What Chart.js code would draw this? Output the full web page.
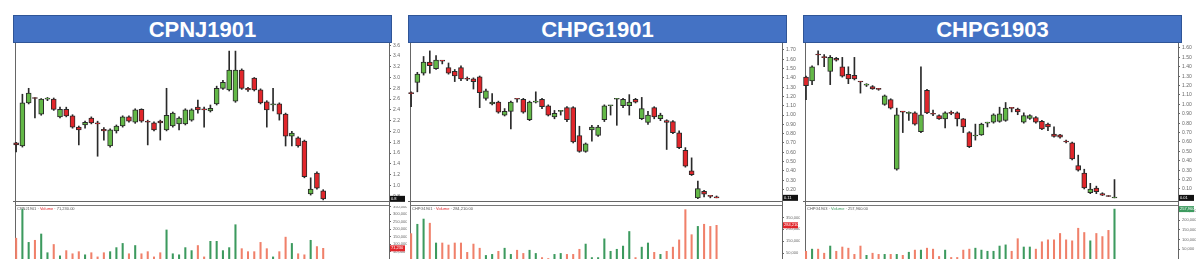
<!DOCTYPE html>
<html>
<head>
<meta charset="utf-8">
<script src="https://cdn.jsdelivr.net/npm/chart.js@4.4.1/dist/chart.umd.min.js"></script>
<style>
    html, body { margin: 0; padding: 0; background: #fff; width: 1200px; height: 259px; overflow: hidden; font-family: "Liberation Sans", Arial, sans-serif; }
    .title { position: absolute; top: 15px; height: 26px; width: 377px; background: #4472c4; border: 1px solid #2f5597; color: #fff; font-weight: bold; font-size: 22px; line-height: 27px; text-align: center; }
    .vline { position: absolute; top: 43px; height: 216px; width: 1px; background: #666; }
    .hline { position: absolute; top: 205px; height: 1px; background: #777; }
    canvas { position: absolute; }
</style>
</head>
<body>
<div class="title" style="left:13px">CPNJ1901</div>
<div class="title" style="left:408px">CHPG1901</div>
<div class="title" style="left:803px">CHPG1903</div>

<div class="vline" style="left:15px"></div>
<div class="vline" style="left:389px"></div>
<div class="vline" style="left:410px"></div>
<div class="vline" style="left:782px"></div>
<div class="vline" style="left:805px"></div>
<div class="vline" style="left:1178px"></div>
<div class="hline" style="left:15px;width:374px"></div>
<div class="hline" style="left:410px;width:372px"></div>
<div class="hline" style="left:805px;width:373px"></div>

<canvas id="price1" width="394" height="162" style="left:13px;top:43px"></canvas>
<canvas id="vol1" width="394" height="57" style="left:13px;top:206px"></canvas>
<canvas id="price2" width="392" height="162" style="left:408px;top:43px"></canvas>
<canvas id="vol2" width="392" height="57" style="left:408px;top:206px"></canvas>
<canvas id="price3" width="393" height="162" style="left:803px;top:43px"></canvas>
<canvas id="vol3" width="393" height="57" style="left:803px;top:206px"></canvas>

<script>
// Trading days shown on the x axis
const dates = ['Jun 28','Jul 1','Jul 2','Jul 3','Jul 4','Jul 5','Jul 8','Jul 9','Jul 10','Jul 11','Jul 12',
    'Jul 15','Jul 16','Jul 17','Jul 18','Jul 19','Jul 22','Jul 23','Jul 24','Jul 25','Jul 26',
    'Jul 29','Jul 30','Jul 31','Aug 1','Aug 2','Aug 5','Aug 6','Aug 7','Aug 8','Aug 9',
    'Aug 12','Aug 13','Aug 14','Aug 15','Aug 16','Aug 19','Aug 20','Aug 21','Aug 22','Aug 23',
    'Aug 26','Aug 27','Aug 28','Aug 29','Aug 30','Sep 3','Sep 4','Sep 5','Sep 6',
    'Sep 9','Sep 10','Sep 11','Sep 12','Sep 13','Sep 16','Sep 17','Sep 18','Sep 19','Sep 20','Sep 23','Sep 24'];

// Which dates carry a tick label, and the text
const tickText = { 'Jul 1': 'Jul', 'Jul 8': '8', 'Jul 15': '15', 'Jul 22': '22', 'Jul 29': '29',
    'Aug 1': 'Aug', 'Aug 5': '5', 'Aug 12': '12', 'Aug 19': '19', 'Aug 26': '26', 'Sep 3': 'Sep', 'Sep 9': '9' };

// Volume axis tick values
const volTicks1 = [50000, 100000, 150000, 200000, 250000, 300000, 350000];
const volTicks2 = [50000, 100000, 150000, 200000, 250000, 300000, 350000, 400000];
const volTicks3 = [50000, 100000, 150000, 200000, 250000];

// [open, high, low, close]
const cpnjOHLC = [
    [1.79,1.80,1.62,1.75],[1.73,2.69,1.71,2.53],[2.53,2.80,2.51,2.71],[2.62,2.63,2.25,2.61],[2.32,2.61,2.30,2.60],
    [2.60,2.63,2.57,2.61],[2.60,2.62,2.39,2.41],[2.27,2.45,2.25,2.41],[2.41,2.45,2.27,2.29],[2.29,2.31,2.06,2.08],
    [2.08,2.10,1.75,2.03],[2.12,2.19,2.06,2.17],[2.25,2.27,2.14,2.16],[2.15,2.19,1.54,2.14],[2.04,2.07,1.84,2.01],
    [1.73,2.05,1.71,2.03],[2.01,2.12,1.97,2.10],[2.10,2.29,2.08,2.27],[2.27,2.29,2.17,2.19],[2.17,2.42,2.15,2.40],
    [2.41,2.42,2.17,2.19],[2.18,2.21,1.75,2.17],[2.16,2.18,2.01,2.03],[2.19,2.21,1.84,2.16],[2.03,2.80,2.01,2.30],
    [2.10,2.36,2.08,2.34],[2.14,2.27,2.03,2.25],[2.14,2.42,2.12,2.40],[2.21,2.42,2.19,2.40],[2.45,2.58,2.34,2.40],
    [2.42,2.45,2.08,2.40],[2.38,2.49,2.36,2.43],[2.51,2.84,2.49,2.80],[2.80,2.95,2.78,2.91],[2.77,3.49,2.75,3.14],
    [2.56,3.49,2.54,3.14],[3.14,3.16,2.78,2.80],[2.80,2.82,2.74,2.77],[2.99,3.00,2.75,2.77],[2.77,2.79,2.51,2.53],
    [2.55,2.57,2.08,2.40],[2.49,2.80,2.38,2.51],[2.51,2.53,2.21,2.32],[2.32,2.34,1.73,1.91],[1.91,2.00,1.73,1.97],
    [1.88,1.90,1.71,1.73],[1.82,1.84,1.14,1.16],[0.84,1.14,0.82,0.93],[1.23,1.25,0.93,0.95],[0.90,0.92,0.73,0.75]
];
const cpnjVolume = [139000,333000,111000,125000,167000,42000,97000,21000,56000,35000,
    49000,28000,42000,14000,42000,49000,76000,104000,35000,90000,
    35000,49000,14000,42000,194000,35000,28000,76000,56000,90000,
    14000,118000,118000,56000,76000,229000,69000,49000,49000,111000,
    69000,14000,49000,146000,104000,35000,28000,125000,83000,71230];

const hpg1901OHLC = [
    [1.24,1.25,1.09,1.23],[1.35,1.46,1.25,1.44],[1.45,1.63,1.43,1.57],[1.57,1.69,1.45,1.53],[1.50,1.64,1.49,1.59],
    [1.585,1.585,1.55,1.58],[1.51,1.56,1.44,1.45],[1.47,1.49,1.36,1.42],[1.51,1.53,1.37,1.39],[1.39,1.41,1.37,1.385],
    [1.39,1.40,1.28,1.36],[1.41,1.42,1.08,1.24],[1.18,1.28,1.16,1.26],[1.12,1.23,1.11,1.14],[1.14,1.15,1.02,1.03],
    [1.00,1.07,0.99,1.04],[1.04,1.15,0.85,1.14],[1.175,1.175,1.14,1.17],[1.17,1.18,1.02,1.03],[0.95,1.15,0.94,1.14],
    [1.14,1.25,1.13,1.145],[1.17,1.18,1.07,1.09],[1.10,1.11,0.99,1.00],[0.98,1.05,0.96,1.02],[1.04,1.05,1.00,1.045],
    [1.08,1.09,0.93,0.95],[1.08,1.09,0.70,0.71],[0.78,0.88,0.60,0.61],[0.61,0.70,0.60,0.69],[0.84,0.89,0.72,0.87],
    [0.78,0.89,0.77,0.87],[0.95,1.11,0.93,1.10],[1.10,1.105,1.00,1.105],[1.17,1.18,0.89,1.175],[1.10,1.18,1.08,1.17],
    [1.10,1.22,1.00,1.14],[1.17,1.18,1.13,1.14],[0.96,1.19,0.95,1.07],[0.92,1.04,0.90,1.00],[1.08,1.09,0.96,0.98],
    [0.96,1.02,0.94,1.00],[0.94,0.95,0.63,0.92],[0.93,0.94,0.80,0.81],[0.81,0.83,0.64,0.65],[0.62,0.65,0.44,0.45],
    [0.40,0.54,0.35,0.36],[0.11,0.29,0.10,0.21],[0.18,0.19,0.12,0.15],[0.13,0.13,0.11,0.125],[0.115,0.13,0.11,0.11]
];
const hpg1901Volume = [214000,293000,337000,302000,135000,135000,118000,135000,135000,56000,
    126000,91000,30000,39000,65000,91000,39000,74000,47000,74000,
    47000,12000,4000,39000,47000,39000,39000,82000,126000,12000,
    12000,170000,65000,82000,109000,232000,12000,100000,135000,56000,
    39000,65000,100000,161000,416000,205000,275000,293000,275000,284210];

const hpg1903OHLC = [
    [1.29,1.30,1.05,1.20],[1.25,1.41,1.21,1.40],[1.53,1.57,1.42,1.525],[1.50,1.53,1.40,1.498],[1.35,1.52,1.21,1.50],
    [1.49,1.50,1.46,1.47],[1.40,1.50,1.29,1.30],[1.32,1.40,1.22,1.27],[1.31,1.50,1.26,1.27],[1.24,1.245,1.12,1.238],
    [1.205,1.22,1.19,1.21],[1.19,1.20,1.16,1.165],[1.165,1.17,1.15,1.16],[1.00,1.10,0.99,1.09],[1.05,1.06,0.95,0.96],
    [0.31,0.96,0.30,0.89],[0.92,0.925,0.70,0.918],[0.905,0.92,0.83,0.91],[0.91,0.92,0.78,0.79],[0.71,1.40,0.70,0.89],
    [1.15,1.16,0.90,0.91],[0.90,0.94,0.88,0.895],[0.88,0.89,0.84,0.845],[0.845,0.92,0.75,0.91],[0.91,0.93,0.89,0.905],
    [0.91,0.92,0.77,0.845],[0.845,0.85,0.70,0.76],[0.70,0.71,0.54,0.55],[0.664,0.79,0.62,0.674],[0.674,0.80,0.67,0.79],
    [0.80,0.81,0.76,0.802],[0.81,0.90,0.80,0.89],[0.82,0.97,0.81,0.90],[0.83,1.02,0.82,0.96],[0.96,0.965,0.92,0.958],
    [0.95,0.96,0.89,0.92],[0.81,0.91,0.80,0.88],[0.85,0.89,0.84,0.88],[0.86,0.87,0.80,0.81],[0.82,0.83,0.73,0.74],
    [0.79,0.80,0.72,0.76],[0.685,0.76,0.65,0.66],[0.675,0.68,0.64,0.65],[0.61,0.62,0.59,0.60],[0.59,0.60,0.41,0.42],
    [0.35,0.46,0.29,0.30],[0.27,0.31,0.10,0.11],[0.06,0.16,0.05,0.10],[0.11,0.13,0.05,0.07],[0.05,0.06,0.03,0.035],
    [0.026,0.03,0.02,0.02],[0.004,0.20,0.0,0.005]
];
const hpg1903Volume = [40000,51000,51000,30000,67000,40000,62000,56000,24000,67000,
    19000,30000,24000,24000,24000,24000,19000,35000,46000,46000,
    56000,51000,13000,46000,8000,8000,46000,51000,56000,46000,
    40000,40000,67000,73000,40000,105000,62000,62000,51000,89000,
    99000,99000,132000,99000,94000,159000,137000,94000,132000,116000,
    148000,257960];

const upColor = '#63b847';
const downColor = '#e1262b';
const volUp = '#3c9a5e';
const volDown = '#f0806a';
const edge = '#2a2a2a';

Chart.defaults.font.family = '"Liberation Sans", Arial, sans-serif';

// fixed axis sizes so the plot areas line up with the frames
function fixAxis(size) {
    return function(scale) {
        if (scale.isHorizontal()) scale.height = size; else scale.width = size;
        scale.paddingTop = 0;
        scale.paddingBottom = 0;
        scale.paddingLeft = 0;
        scale.paddingRight = 0;
    };
}

// last value tag on the right axis, plus the small volume legend
const tagPlugin = {
    id: 'lastTag',
    afterDraw(chart, args, opts) {
        if (opts.value == null) return;
        const ctx = chart.ctx;
        const area = chart.chartArea;
        const y = chart.scales.y.getPixelForValue(opts.value);
        ctx.save();
        ctx.fillStyle = opts.color;
        ctx.fillRect(area.right + 1, y - 3, 15, 6);
        ctx.fillStyle = '#fff';
        ctx.font = '4px "Liberation Sans"';
        ctx.textBaseline = 'middle';
        ctx.fillText(opts.text, area.right + 2, y);
        if (opts.legend) {
            let x = area.left + 4;
            const ly = area.top + 3;
            opts.legend.forEach(function(part) {
                ctx.fillStyle = part[1];
                ctx.fillText(part[0], x, ly);
                x += ctx.measureText(part[0]).width;
            });
        }
        ctx.restore();
    }
};

function xAxis(labels, lastIdx) {
    return {
        offset: true,
        grid: { display: false },
        border: { display: true, color: '#666' },
        afterFit: fixAxis(4),
        ticks: {
            autoSkip: false, maxRotation: 0, padding: 0,
            font: { size: 4 }, color: '#777',
            callback: function(v, i) {
                return i <= lastIdx ? (tickText[labels[i]] || '') : '';
            }
        }
    };
}

function candleChart(id, ohlc, nCats, yMin, yMax, yStep, digits) {
    const labels = dates.slice(0, nCats);
    const last = ohlc[ohlc.length - 1][3];
    new Chart(document.getElementById(id), {
        type: 'bar',
        data: {
            labels: labels,
            datasets: [
                {
                    data: ohlc.map(d => [d[0], d[3]]),
                    backgroundColor: ohlc.map(d => d[3] >= d[0] ? upColor : downColor),
                    borderColor: edge, borderWidth: 1, borderSkipped: false,
                    barThickness: 5, minBarLength: 1, grouped: false
                },
                {
                    data: ohlc.map(d => [d[2], d[1]]),
                    backgroundColor: edge, barThickness: 1, grouped: false
                }
            ]
        },
        plugins: [tagPlugin],
        options: {
            responsive: false, animation: false, events: [],
            layout: { padding: 0 },
            plugins: {
                legend: { display: false }, tooltip: { enabled: false },
                lastTag: { value: last, text: last.toFixed(digits), color: '#111' }
            },
            scales: {
                x: xAxis(labels, ohlc.length - 1),
                y: {
                    position: 'right', min: yMin, max: yMax,
                    grid: { drawOnChartArea: false, tickLength: 2, color: '#666' },
                    border: { display: true, color: '#666' },
                    afterFit: fixAxis(18),
                    ticks: {
                        stepSize: yStep, includeBounds: false, padding: 2,
                        font: { size: 5 }, color: '#666',
                        callback: v => v.toFixed(digits)
                    }
                }
            }
        }
    });
}

function volumeChart(id, vols, ohlc, nCats, yMax, yTicks, name) {
    const labels = dates.slice(0, nCats);
    const last = vols[vols.length - 1];
    const lastUp = ohlc[ohlc.length - 1][3] >= ohlc[ohlc.length - 1][0];
    const fmt = v => v.toLocaleString('en-US');
    new Chart(document.getElementById(id), {
        type: 'bar',
        data: {
            labels: labels,
            datasets: [{
                data: vols,
                backgroundColor: ohlc.map(d => d[3] >= d[0] ? volUp : volDown),
                barThickness: 1.4
            }]
        },
        plugins: [tagPlugin],
        options: {
            responsive: false, animation: false, events: [],
            layout: { padding: 0 },
            plugins: {
                legend: { display: false }, tooltip: { enabled: false },
                lastTag: {
                    value: last, text: fmt(last), color: lastUp ? '#3c9a5e' : '#e1262b',
                    legend: [[name + ' · ', '#555'], ['Volume', lastUp ? '#3c9a5e' : '#e1262b'],
                             [' · ' + last.toLocaleString('en-US', { minimumFractionDigits: 2 }), '#555']]
                }
            },
            scales: {
                x: xAxis(labels, ohlc.length - 1),
                y: {
                    position: 'right', min: 0, max: yMax,
                    grid: { drawOnChartArea: false, tickLength: 2, color: '#666' },
                    border: { display: true, color: '#666' },
                    afterFit: fixAxis(18),
                    afterBuildTicks: function(scale) {
                        scale.ticks = yTicks.map(v => ({ value: v }));
                    },
                    ticks: {
                        padding: 2, font: { size: 4 }, color: '#666',
                        callback: v => fmt(v)
                    }
                }
            }
        }
    });
}

candleChart('price1', cpnjOHLC, 60, 0.71, 3.64, 0.2, 1);
volumeChart('vol1', cpnjVolume, cpnjOHLC, 60, 354000, volTicks1, 'CPNJ1901');
candleChart('price2', hpg1901OHLC, 60, 0.076, 1.775, 0.1, 2);
volumeChart('vol2', hpg1901Volume, hpg1901OHLC, 60, 447000, volTicks2, 'CHPG1901');
candleChart('price3', hpg1903OHLC, 62, -0.028, 1.653, 0.1, 2);
volumeChart('vol3', hpg1903Volume, hpg1903OHLC, 62, 274000, volTicks3, 'CHPG1903');
</script>
</body>
</html>
